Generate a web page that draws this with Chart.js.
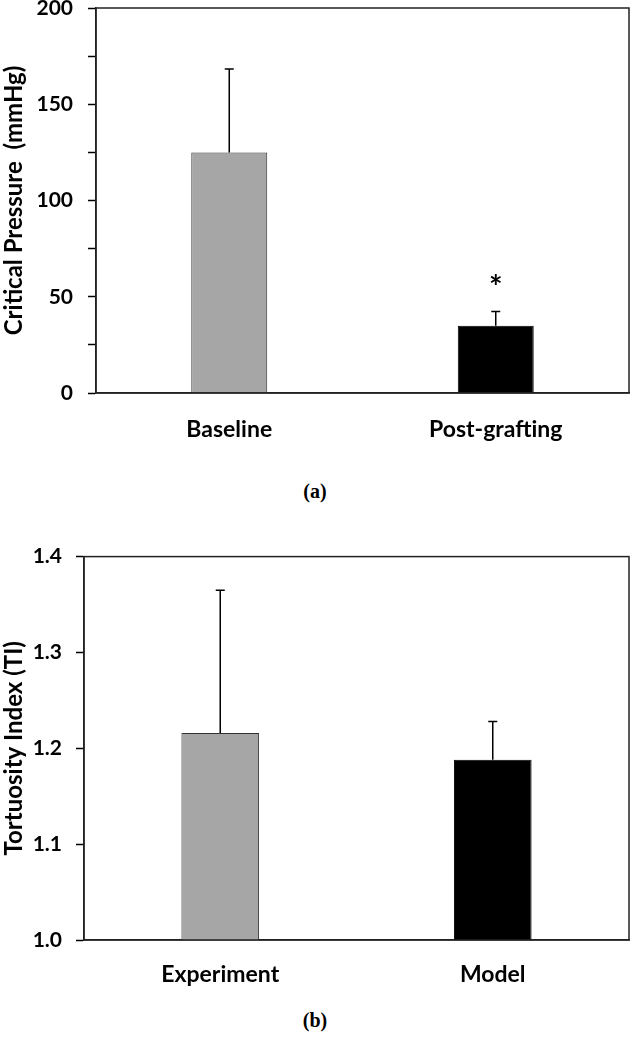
<!DOCTYPE html>
<html>
<head>
<meta charset="utf-8">
<script src="https://cdn.jsdelivr.net/npm/chart.js@4.4.0/dist/chart.umd.min.js"></script>
<style>
  html, body { margin: 0; padding: 0; background: #fff; }
  body { width: 630px; height: 1050px; position: relative; overflow: hidden; }
  .wrap { position: absolute; left: 0; width: 630px; }
  .cap { position: absolute; left: 0; width: 630px; text-align: center;
         font-family: "Liberation Serif", "DejaVu Serif", serif; font-weight: bold; font-size: 20px; color: #000; }
</style>
</head>
<body>
<div class="wrap" id="wa" style="top:-20px;height:470px;"><canvas id="ca"></canvas></div>
<div class="cap" style="top:480px;">(a)</div>
<div class="wrap" id="wb" style="top:530px;height:460px;"><canvas id="cb"></canvas></div>
<div class="cap" style="top:1009px;">(b)</div>
<script>
// ---- Data (a) ----
const catsA = ["Baseline", "Post-grafting"];
const valsA = [125, 35];
const errA = [43.3, 7.3];
const sigA = ["", "*"];
const sigPosA = [null, 59];
const yTitleA = "Critical Pressure  (mmHg)";

// ---- Data (b) ----
const catsB = ["Experiment", "Model"];
const valsB = [1.216, 1.188];
const errB = [0.149, 0.040];
const yTitleB = "Tortuosity Index (TI)";

const FONT = "Lato, 'Open Sans', sans-serif";
const colorsBar = ["#a6a6a6", "#000000"];

const frameAndErr = {
  id: 'frameAndErr',
  afterDatasetsDraw(chart, args, opts) {
    const ctx = chart.ctx;
    const a = chart.chartArea;
    const ys = chart.scales.y;
    const meta = chart.getDatasetMeta(0);
    const vals = chart.data.datasets[0].data;
    const errs = opts.errs;
    ctx.save();
    ctx.strokeStyle = '#000';
    ctx.lineWidth = 1.5;
    meta.data.forEach((bar, i) => {
      const x = bar.x;
      const yTop = ys.getPixelForValue(vals[i]);
      const yErr = ys.getPixelForValue(vals[i] + errs[i]);
      ctx.beginPath();
      ctx.moveTo(x, yTop);
      ctx.lineTo(x, yErr);
      ctx.moveTo(x - 4.5, yErr);
      ctx.lineTo(x + 4.5, yErr);
      ctx.stroke();
    });
    if (opts.sig) {
      ctx.fillStyle = '#000';
      ctx.font = "bold 32px " + FONT;
      ctx.textAlign = 'center';
      ctx.textBaseline = 'middle';
      opts.sig.forEach((s, i) => {
        if (s && opts.sigPos[i] != null) {
          ctx.fillText(s, meta.data[i].x, ys.getPixelForValue(opts.sigPos[i]) + 9);
        }
      });
    }
    ctx.lineWidth = 1.5;
    ctx.strokeStyle = '#222';
    ctx.strokeRect(a.left, a.top, a.right - a.left, a.bottom - a.top);
    ctx.restore();
  }
};

function makeChart(id, cats, vals, errs, yopts, title, layout, sig, sigPos) {
  return new Chart(document.getElementById(id), {
    type: 'bar',
    data: {
      labels: cats,
      datasets: [{
        data: vals,
        backgroundColor: colorsBar,
        borderColor: ['#333', '#000'],
        borderWidth: 1,
        barPercentage: 0.285,
        categoryPercentage: 1.0
      }]
    },
    options: {
      responsive: true,
      maintainAspectRatio: false,
      animation: false,
      devicePixelRatio: 1,
      layout: { autoPadding: false, padding: layout.padding },
      plugins: {
        legend: { display: false },
        tooltip: { enabled: false },
        frameAndErr: { errs: errs, sig: sig, sigPos: sigPos }
      },
      scales: {
        x: {
          grid: { display: false },
          border: { display: true, color: '#222', width: 1.5 },
          ticks: { color: '#000', font: { family: FONT, weight: 'bold', size: 23 }, padding: layout.xpad, maxRotation: 0 },
          afterFit(s) { s.height = layout.xh; }
        },
        y: {
          min: yopts.min, max: yopts.max,
          grid: { drawOnChartArea: false, drawTicks: true, tickLength: 8, tickColor: '#000', tickWidth: 1.5 },
          border: { display: true, color: '#222', width: 1.5 },
          ticks: {
            stepSize: yopts.step,
            color: '#000',
            padding: layout.ypad,
            font: { family: FONT, weight: 'bold', size: 21 },
            callback: yopts.cb
          },
          title: { display: true, text: title, color: '#000', padding: 0,
                   font: { family: FONT, weight: 'bold', size: 24 } },
          afterFit(s) { s.width = layout.yw; }
        }
      }
    },
    plugins: [frameAndErr]
  });
}

makeChart('ca', catsA, valsA, errA,
  { min: 0, max: 200, step: 25, cb: v => (v % 50 === 0 ? String(v) : '') },
  yTitleA,
  { padding: { top: 28, right: 1, left: 0, bottom: 0 }, xh: 57, xpad: 15, ypad: 15, yw: 96 },
  sigA, sigPosA);

makeChart('cb', catsB, valsB, errB,
  { min: 1.0, max: 1.4, step: 0.1, cb: v => v.toFixed(1) },
  yTitleB,
  { padding: { top: 26, right: 1, left: 0, bottom: 0 }, xh: 50, xpad: 13, ypad: 14, yw: 84 },
  null, null);
</script>
</body>
</html>
